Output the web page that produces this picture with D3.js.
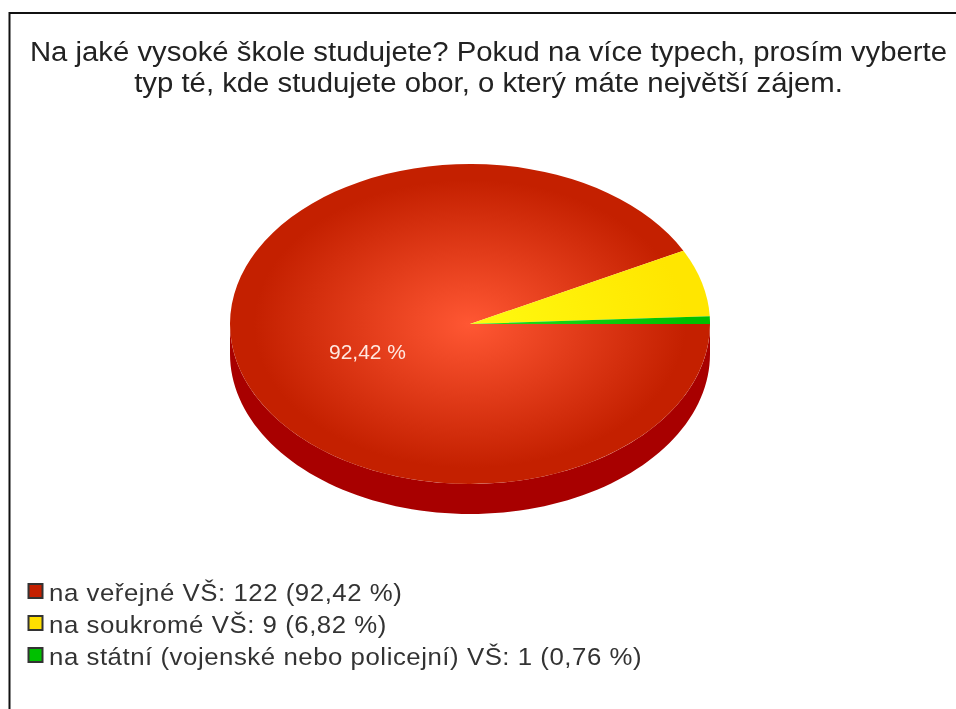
<!DOCTYPE html>
<html>
<head>
<meta charset="utf-8">
<script src="https://cdn.jsdelivr.net/npm/d3@7"></script>
<style>
  html, body { margin: 0; padding: 0; background: white; }
  svg { display: block; filter: blur(0.45px); }
  text { font-family: "Liberation Sans", Arial, sans-serif; }
</style>
</head>
<body>
<svg></svg>
<script>
// Dados do gráfico
const titleLines = [
  "Na jaké vysoké škole studujete? Pokud na více typech, prosím vyberte",
  "typ té, kde studujete obor, o který máte největší zájem."
];
const categories = ["na veřejné VŠ", "na soukromé VŠ", "na státní (vojenské nebo policejní) VŠ"];
const counts = [122, 9, 1];
const percentLabels = ["92,42 %", "6,82 %", "0,76 %"];
const innerColors = ["#ff5733", "#fffa10", "#22e022"];
const outerColors = ["#c42000", "#ffe600", "#00c000"];
const legendColors = ["#c42000", "#ffe000", "#00c000"];

const width = 956;
const height = 709;

const svg = d3.select("svg")
  .attr("width", width)
  .attr("height", height);

// Moldura
svg.append("path")
  .attr("d", `M9.5,${height}V13H${width}`)
  .attr("fill", "none")
  .attr("stroke", "#111")
  .attr("stroke-width", 2);

// Título
svg.selectAll("text.title")
  .data(titleLines)
  .enter()
  .append("text")
  .attr("class", "title")
  .attr("transform", (d, i) => `translate(488.5,${61 + i * 31}) scale(1.047,1)`)
  .attr("text-anchor", "middle")
  .attr("fill", "#222")
  .style("font-size", "28px")
  .text(d => d);

// Pizza elíptica
const cx = 470, cy = 324, rx = 240, ry = 160, depth = 30;

const pie = d3.pie()
  .sort(null)
  .startAngle(Math.PI / 2)
  .endAngle(Math.PI / 2 + 2 * Math.PI);
const arcs = pie(counts);

const defs = svg.append("defs");
categories.forEach((c, i) => {
  const grad = defs.append("radialGradient")
    .attr("id", "grad" + i)
    .attr("gradientUnits", "userSpaceOnUse")
    .attr("cx", 0).attr("cy", 0).attr("r", 1);
  grad.append("stop").attr("offset", 0).attr("stop-color", innerColors[i]);
  grad.append("stop").attr("offset", 0.9).attr("stop-color", outerColors[i]);
  grad.append("stop").attr("offset", 1).attr("stop-color", outerColors[i]);
});

// Lateral 3D
const sideAngles = d3.range(0, 181, 2).map(d => d * Math.PI / 180);
const side = d3.area()
  .x(a => cx + rx * Math.cos(a))
  .y0(a => cy + ry * Math.sin(a))
  .y1(a => cy + ry * Math.sin(a) + depth);

svg.append("path")
  .attr("d", side(sideAngles))
  .attr("fill", "#a80000");

// Fatias
const arc = d3.arc().innerRadius(0).outerRadius(1);
svg.append("g")
  .attr("transform", `translate(${cx},${cy}) scale(${rx},${ry})`)
  .selectAll("path")
  .data(arcs)
  .enter()
  .append("path")
  .attr("d", arc)
  .attr("fill", (d, i) => `url(#grad${i})`);

// Rótulo da fatia grande
svg.append("text")
  .attr("x", 367.5)
  .attr("y", 358.5)
  .attr("text-anchor", "middle")
  .attr("fill", "#ffe8e0")
  .style("font-size", "21px")
  .text(percentLabels[0]);

// Legenda
const legendY = d3.scaleOrdinal().domain(categories).range([591, 623, 655]);
const legend = svg.selectAll("g.legend")
  .data(categories)
  .enter()
  .append("g")
  .attr("class", "legend")
  .attr("transform", d => `translate(28,${legendY(d)})`);

legend.append("rect")
  .attr("x", 0.5)
  .attr("y", -7)
  .attr("width", 14)
  .attr("height", 14)
  .attr("fill", (d, i) => legendColors[i])
  .attr("stroke", "#333")
  .attr("stroke-width", 2);

legend.append("text")
  .attr("transform", "translate(21,9.5) scale(1.075,1)")
  .attr("fill", "#333")
  .style("font-size", "24px")
  .style("letter-spacing", "0.5px")
  .text((d, i) => `${d}: ${counts[i]} (${percentLabels[i]})`);
</script>
</body>
</html>
